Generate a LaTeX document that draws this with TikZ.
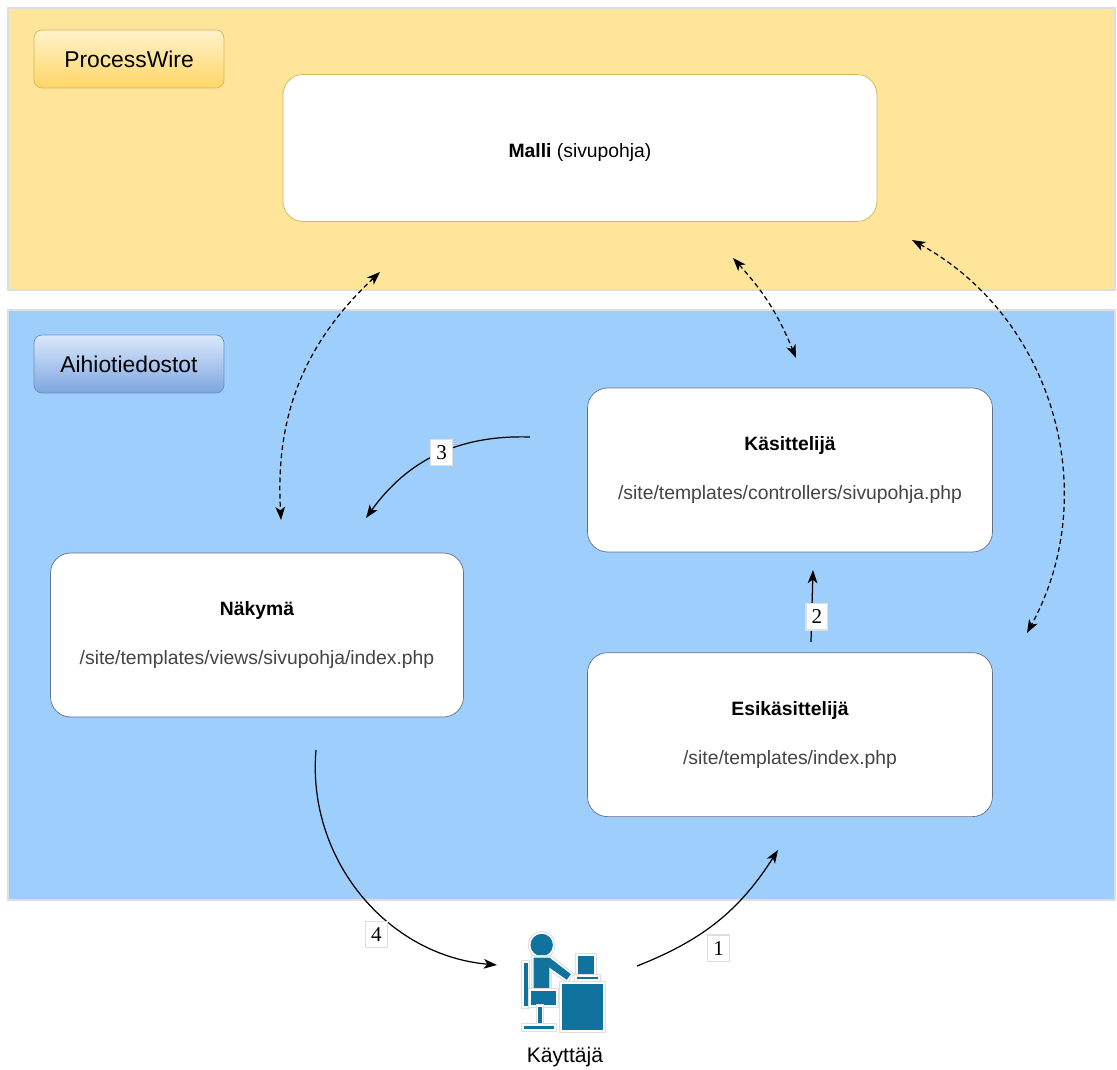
\documentclass[tikz,border=0pt]{standalone}
\usepackage{fontspec}
\setmainfont{Liberation Sans}
\newfontfamily\numfont{Liberation Serif}
\usetikzlibrary{arrows.meta,positioning}
\definecolor{pwband}{RGB}{255,229,153}
\definecolor{fileband}{RGB}{158,206,252}
\definecolor{bandline}{RGB}{222,222,222}
\definecolor{pwline}{RGB}{214,182,86}
\definecolor{pwtop}{RGB}{255,242,204}
\definecolor{pwbottom}{RGB}{255,214,102}
\definecolor{fileline}{RGB}{108,142,191}
\definecolor{filetop}{RGB}{218,232,252}
\definecolor{filebottom}{RGB}{126,166,224}
\definecolor{boxline}{RGB}{98,112,136}
\definecolor{pathgray}{RGB}{68,68,68}
\definecolor{usercol}{RGB}{16,115,158}
\tikzset{x=0.02cm, y=-0.02cm, node distance=2cm,
	band/.style={draw=bandline, line width=0.6pt},
	tag/.style={
		draw, rounded corners=0.16cm,
		minimum width=3.8cm, minimum height=1.16cm,
		font=\fontsize{13}{15}\selectfont
	},
	part/.style={
		draw=boxline, fill=white, rounded corners=0.4cm,
		minimum width=8.1cm, minimum height=3.28cm,
		align=center, font=\fontsize{11}{13}\selectfont
	},
	flow/.style={
		draw, ->, >={Stealth[length=7.5pt,width=5.5pt,inset=2pt]}, line width=0.7pt
	},
	uses/.style={
		draw, <->, >={Stealth[length=7.5pt,width=5.5pt,inset=2pt]}, line width=0.7pt,
		dash pattern=on 2.8pt off 1.8pt
	},
	nr/.style={
		fill=white, draw=gray!25, inner xsep=3.2pt, inner ysep=3.5pt,
		font=\numfont\fontsize{12}{14}\selectfont
	},
	figure/.style={
		fill=usercol, draw=white, line width=0.8pt,
		preaction={draw=gray!25, line width=2.2pt}
	}
}

\begin{document}
\begin{tikzpicture}
	\useasboundingbox (0,0) rectangle (1117,1070);

	% taustat
	\path[band, fill=pwband] (8,8) rectangle (1115,290);
	\path[band, fill=fileband] (8,310) rectangle (1115,900);

	\node[tag, draw=pwline, top color=pwtop, bottom color=pwbottom] (pw) at (129,59) {ProcessWire};
	\node[tag, draw=fileline, top color=filetop, bottom color=filebottom] (aihio) at (129,364) {Aihiotiedostot};

	% laatikot
	\node[part, draw=pwline, minimum width=11.88cm, minimum height=2.94cm] (malli) at (580,148) {\raisebox{-0.19cm}[0pt][0pt]{\textbf{Malli} (sivupohja)}};
	\node[part] (kas) at (790,470) {\textbf{Käsittelijä}\\[0.52cm]{\color{pathgray}/site/templates/controllers/sivupohja.php}};
	\node[part, below=of kas] (esik) {\textbf{Esikäsittelijä}\\[0.52cm]{\color{pathgray}/site/templates/index.php}};
	\node[part, minimum width=8.26cm] (nak) at (257,635) {\textbf{Näkymä}\\[0.52cm]{\color{pathgray}/site/templates/views/sivupohja/index.php}};

	% kayttaja
	\node[minimum width=1.7cm, minimum height=2.1cm] (user) at (563,990) {};
	\begin{scope}
		\path[figure] (541.7,945) circle[radius=0.24cm];
		\path[figure] (523,962) rectangle (528.5,1007);
		\path[figure] (533,957) -- (550,957) -- (572,974) -- (567,981) -- (550,969) -- (550,990) -- (533,990) -- cycle;
		\path[figure] (530,990) rectangle (557,1006);
		\path[figure] (537.5,1006) rectangle (542.5,1025);
		\path[figure] (523,1025) rectangle (555,1030);
		\path[figure] (577,955) rectangle (595,975);
		\path[figure] (576,976) rectangle (599,980);
		\path[figure] (561,983) rectangle (604,1031);
	\end{scope}
	\node[font=\fontsize{12}{14}\selectfont] (userlbl) at (565,1057) {Käyttäjä};

	% nuolten päät
	\coordinate (u1) at (380,272);
	\coordinate (n1) at (281,520);
	\coordinate (u2) at (733,258);
	\coordinate (k2) at (796,358);
	\coordinate (u3) at (912,240);
	\coordinate (e3) at (1027,633);
	\coordinate (k3s) at (530,437);
	\coordinate (n3e) at (366,518);
	\coordinate (e2s) at (811,642);
	\coordinate (k2e) at (813,570);
	\coordinate (n4s) at (316,750);
	\coordinate (c4e) at (497,965);
	\coordinate (c1s) at (637,966);
	\coordinate (e1e) at (778,850);

	\draw[uses] (u1) to[bend right=25] (n1);
	\draw[uses] (u2) to[bend left=10] (k2);
	\draw[uses] (u3) to[bend left=45] (e3);

	\draw[flow] (k3s) to[bend right=28] node[nr, pos=0.47] {3} (n3e);
	\draw[flow] (e2s) -- node[nr, pos=0.35, xshift=3pt] {2} (k2e);
	\draw[flow] (n4s) to[bend right=45] node[nr, pos=0.62, anchor=north east] {4} (c4e);
	\draw[flow] (c1s) to[bend right=18] node[nr, pos=0.42, anchor=north west, yshift=-3pt] {1} (e1e);
\end{tikzpicture}
\end{document}
